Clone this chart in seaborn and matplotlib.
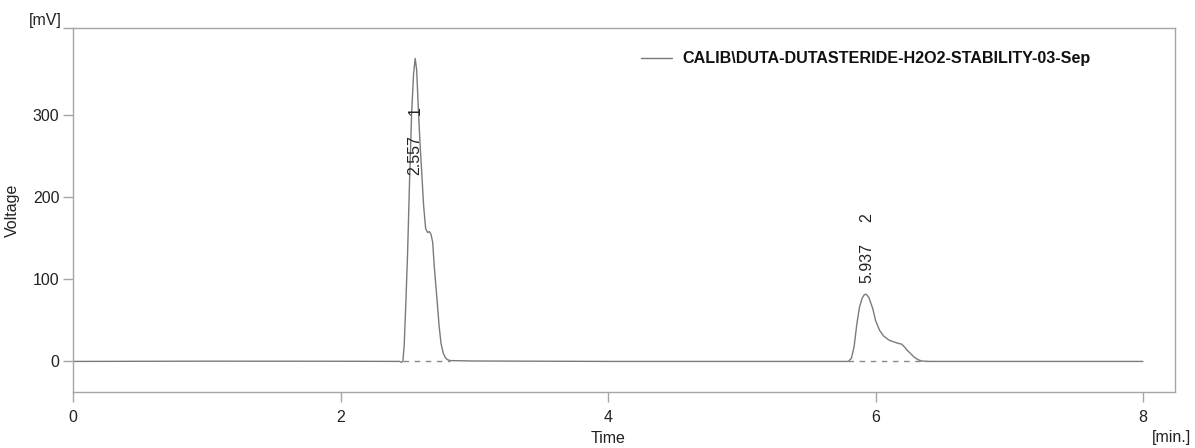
import matplotlib
matplotlib.use("Agg")
import matplotlib.pyplot as plt
import seaborn as sns
import pandas as pd

# Chromatogram trace: retention time (min) and detector signal (mV)
time_min = [
    0.00, 1.00, 2.00, 2.44, 2.455, 2.465, 2.475, 2.488, 2.500, 2.515, 2.530,
    2.545, 2.557, 2.568, 2.580, 2.595, 2.606, 2.620, 2.635, 2.650, 2.663,
    2.675, 2.688, 2.700, 2.718, 2.735, 2.750, 2.767, 2.785, 2.800, 2.820,
    3.00, 4.00, 5.00, 5.797, 5.820, 5.840, 5.860, 5.880, 5.900, 5.915, 5.929,
    5.950, 5.980, 6.000, 6.030, 6.060, 6.100, 6.133, 6.170, 6.196, 6.220,
    6.240, 6.260, 6.290, 6.320, 6.345, 6.400, 7.00, 8.00,
]
voltage_mv = [
    0.0, 0.3, 0.2, 0.0, -1.0, 0.0, 20.0, 75.0, 130.0, 220.0, 300.0,
    350.0, 369.0, 355.0, 310.0, 260.0, 230.0, 190.0, 162.0, 157.0, 158.0,
    155.0, 145.0, 115.0, 80.0, 45.0, 22.0, 10.0, 4.0, 2.0, 1.0,
    0.5, 0.0, 0.0, 0.0, 4.0, 18.0, 45.0, 66.0, 77.0, 81.0, 82.0,
    78.0, 64.0, 50.0, 38.0, 31.0, 26.0, 24.0, 22.0, 21.0, 17.0,
    13.0, 10.0, 5.0, 2.0, 0.5, 0.0, 0.0, 0.0,
]

# Integration baselines drawn under each peak (start, end in min)
baseline_starts = [2.464, 5.797]
baseline_ends = [2.820, 6.390]

# Peak annotations
peak_times = [2.557, 5.937]
peak_numbers = ["1", "2"]
rt_label_y = [251.0, 120.0]
num_label_y = [306.0, 174.7]

x_ticks = [0, 2, 4, 6, 8]
y_ticks = [0, 100, 200, 300]
series_name = "CALIB\\DUTA-DUTASTERIDE-H2O2-STABILITY-03-Sep"

x_lim = (0.0, 8.24)
y_lim = (-37.6, 405.6)

sns.set_theme(style="white")
plt.rcParams["font.family"] = ["Liberation Sans", "DejaVu Sans"]

trace = pd.DataFrame({"Time": time_min, "Voltage": voltage_mv, "run": series_name})

fig = plt.figure(figsize=(11.95, 4.48), dpi=100)
ax = fig.add_axes([73.3 / 1195, 1 - 392.3 / 448, (1175 - 73.3) / 1195, (392.3 - 28.3) / 448])

line_grey = "#7a7a7a"
spine_grey = "#a6a6a6"

sns.lineplot(data=trace, x="Time", y="Voltage", hue="run", palette=[line_grey],
             sort=False, estimator=None, linewidth=1.0, ax=ax)

for x0, x1 in zip(baseline_starts, baseline_ends):
    sns.lineplot(x=[x0, x1], y=[0.0, 0.0], color="#8a8a8a", linewidth=1.0,
                 dashes=False, linestyle=(0, (4, 4)), ax=ax, legend=False)

for t, ylab, ynum, num in zip(peak_times, rt_label_y, num_label_y, peak_numbers):
    ax.text(t, ylab, f"{t:.3f}", rotation=90, ha="center", va="center",
            fontsize=11.5, color="#222222")
    ax.text(t, ynum, num, rotation=90, ha="center", va="center",
            fontsize=11.5, color="#222222")

ax.set_xlim(*x_lim)
ax.set_ylim(*y_lim)
ax.set_xticks(x_ticks)
ax.set_xticklabels([str(v) for v in x_ticks])
ax.set_yticks(y_ticks + [y_lim[1]])
ax.set_yticklabels([str(v) for v in y_ticks] + [""])

ax.tick_params(axis="both", which="both", direction="out", length=7, width=1,
               color=spine_grey, labelsize=11.5, labelcolor="#222222", pad=3,
               bottom=True, left=True)
ax.tick_params(axis="x", pad=6)
for sp in ax.spines.values():
    sp.set_color(spine_grey)
    sp.set_linewidth(1.0)

ax.set_xlabel("Time", fontsize=11.5, color="#222222", va="center")
ax.xaxis.set_label_coords((608 - 73.3) / (1175 - 73.3), -(438 - 392.3) / 364)
ax.set_ylabel("Voltage", fontsize=11.5, color="#222222")
ax.yaxis.set_label_coords(-(73.3 - 20) / (1175 - 73.3), (392.3 - 210) / 364)

fig.text(61.7 / 1195, 1 - 21 / 448, "[mV]", ha="right", va="center",
         fontsize=11.5, color="#222222")
fig.text(1191 / 1195, 1 - 437 / 448, "[min.]", ha="right", va="center",
         fontsize=11.5, color="#222222")

handles, labels = ax.get_legend_handles_labels()
leg = ax.legend(handles, labels, loc="center left",
                bbox_to_anchor=(641 / 1195, 1 - 59 / 448),
                bbox_transform=fig.transFigure, frameon=False, borderpad=0,
                borderaxespad=0, handlelength=1.95, handletextpad=0.6,
                prop={"size": 11.6, "weight": "bold"})
for txt in leg.get_texts():
    txt.set_color("#111111")

fig.savefig("out.png", dpi=100, facecolor="white")
